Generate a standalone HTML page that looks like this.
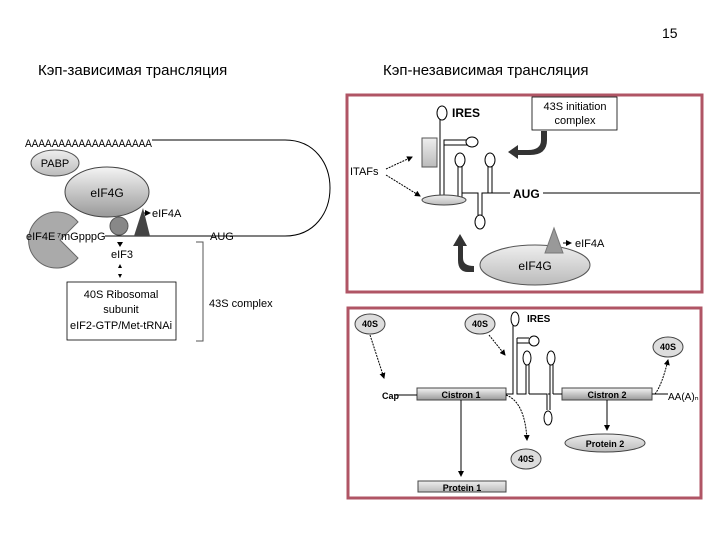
<!DOCTYPE html>
<html><head><meta charset="utf-8"><style>
body{margin:0;background:#fff;width:720px;height:540px;overflow:hidden}
svg{display:block;font-family:"Liberation Sans",Arial,sans-serif}
</style></head><body>
<svg width="720" height="540" viewBox="0 0 720 540">
<defs>
<linearGradient id="g1" x1="0" y1="0" x2="0" y2="1"><stop offset="0" stop-color="#f4f4f4"/><stop offset="1" stop-color="#999"/></linearGradient>
<linearGradient id="g2" x1="0" y1="0" x2="0" y2="1"><stop offset="0" stop-color="#eee"/><stop offset="1" stop-color="#bbb"/></linearGradient>
<marker id="ar" markerWidth="6" markerHeight="6" refX="5" refY="3" orient="auto"><path d="M0,0L6,3L0,6z" fill="#000"/></marker>
</defs>
<text x="662" y="38" font-size="14">15</text>
<text x="38" y="75" font-size="15">Кэп-зависимая трансляция</text>
<text x="383" y="75" font-size="15">Кэп-независимая трансляция</text>

<!-- left diagram -->
<text x="25" y="147" font-size="11" textLength="127" lengthAdjust="spacingAndGlyphs">AAAAAAAAAAAAAAAAAAA</text>
<path d="M152,140 H285 C345,140 345,236 285,236 H105" fill="none" stroke="#000" stroke-width="1"/>
<ellipse cx="55" cy="163" rx="24" ry="13" fill="url(#g2)" stroke="#555"/>
<text x="55" y="167" font-size="11" text-anchor="middle">PABP</text>
<ellipse cx="107" cy="192" rx="42" ry="25" fill="url(#g1)" stroke="#444"/>
<text x="107" y="197" font-size="12" text-anchor="middle">eIF4G</text>
<path d="M78,222 A28,28 0 1 0 78,258 L60,240 Z" fill="#aaa" stroke="#666"/>
<circle cx="119" cy="226" r="9" fill="#888" stroke="#555"/>
<path d="M134,236 L150,236 L143,208 Z" fill="#444"/>
<line x1="144" y1="213" x2="150" y2="213" stroke="#000" marker-end="url(#ar)"/>
<text x="152" y="217" font-size="11">eIF4A</text>
<text x="26" y="240" font-size="11">eIF4E</text>
<text x="57" y="240" font-size="11">⁷mGpppG</text>
<text x="210" y="240" font-size="11">AUG</text>
<path d="M117,242 L120,247 L123,242Z" fill="#000"/>
<text x="111" y="258" font-size="11">eIF3</text>
<path d="M118,268 L120,264 L122,268Z M118,274 L120,278 L122,274Z" fill="#000"/>
<rect x="67" y="282" width="109" height="58" fill="#fff" stroke="#000" stroke-width="0.8"/>
<text x="121" y="298" font-size="11" text-anchor="middle">40S Ribosomal</text>
<text x="121" y="313" font-size="11" text-anchor="middle">subunit</text>
<text x="121" y="329" font-size="11" text-anchor="middle">eIF2-GTP/Met-tRNAi</text>
<path d="M196,242 H203 V341 H196" fill="none" stroke="#555"/>
<text x="209" y="307" font-size="11">43S complex</text>

<!-- top right box -->
<rect x="347" y="95" width="355" height="197" fill="#fff" stroke="#b05565" stroke-width="3"/>
<text x="452" y="117" font-size="12" font-weight="bold">IRES</text>
<rect x="532" y="97" width="85" height="33" fill="#fff" stroke="#000" stroke-width="0.8"/>
<text x="575" y="110" font-size="11" text-anchor="middle">43S initiation</text>
<text x="575" y="124" font-size="11" text-anchor="middle">complex</text>
<path d="M541,131 V140 Q541,150 528,150 H518 L518,145 L508,152 L518,159 L518,155 H530 Q547,155 547,140 V131 Z" fill="#333"/>
<path d="M440,200 V118 M444,200 V140 H467 M444,145 H467 M444,145 V200" fill="none" stroke="#000"/>
<ellipse cx="442" cy="113" rx="5" ry="7" fill="#fff" stroke="#000"/>
<ellipse cx="472" cy="142" rx="6" ry="5" fill="#fff" stroke="#000"/>
<rect x="422" y="138" width="15" height="29" fill="url(#g2)" stroke="#555"/>
<path d="M458,200 V166 M462,200 V166 M488,193 V166 M492,193 V166" stroke="#000"/>
<ellipse cx="460" cy="160" rx="5" ry="7" fill="#fff" stroke="#000"/>
<ellipse cx="490" cy="160" rx="5" ry="7" fill="#fff" stroke="#000"/>
<path d="M462,193 H478 V215 M482,215 V193 H492 M492,193 H510 M543,193 H700" fill="none" stroke="#000"/>
<ellipse cx="480" cy="222" rx="5" ry="7" fill="#fff" stroke="#000"/>
<text x="513" y="198" font-size="12" font-weight="bold">AUG</text>
<ellipse cx="444" cy="200" rx="22" ry="5" fill="url(#g2)" stroke="#444"/>
<text x="350" y="175" font-size="11">ITAFs</text>
<line x1="386" y1="169" x2="412" y2="157" stroke="#000" stroke-dasharray="2,1" marker-end="url(#ar)"/>
<line x1="386" y1="175" x2="420" y2="196" stroke="#000" stroke-dasharray="2,1" marker-end="url(#ar)"/>
<ellipse cx="535" cy="265" rx="55" ry="20" fill="url(#g2)" stroke="#555"/>
<text x="535" y="270" font-size="12" text-anchor="middle">eIF4G</text>
<path d="M545,253 L563,253 L554,228 Z" fill="#999" stroke="#777"/>
<line x1="563" y1="243" x2="571" y2="243" stroke="#000" marker-end="url(#ar)"/>
<text x="575" y="247" font-size="11">eIF4A</text>
<path d="M474,272 H468 Q458,272 458,260 V246 H453 L460,234 L467,246 H463 V258 Q463,266 474,266 Z" fill="#333"/>

<!-- bottom right box -->
<rect x="348" y="308" width="353" height="190" fill="#fff" stroke="#b05565" stroke-width="3"/>
<g font-size="9" font-weight="bold" text-anchor="middle">
<ellipse cx="370" cy="324" rx="15" ry="10" fill="#ddd" stroke="#444"/><text x="370" y="327">40S</text>
<ellipse cx="480" cy="324" rx="15" ry="10" fill="#ddd" stroke="#444"/><text x="480" y="327">40S</text>
<ellipse cx="668" cy="347" rx="15" ry="10" fill="#ddd" stroke="#444"/><text x="668" y="350">40S</text>
<ellipse cx="526" cy="459" rx="15" ry="10" fill="#ddd" stroke="#444"/><text x="526" y="462">40S</text>
<ellipse cx="605" cy="443" rx="40" ry="9" fill="url(#g2)" stroke="#444"/><text x="605" y="447">Protein 2</text>
<rect x="417" y="388" width="89" height="12" fill="url(#g1)" stroke="#444"/><text x="461" y="398">Cistron 1</text>
<rect x="562" y="388" width="90" height="12" fill="url(#g1)" stroke="#444"/><text x="607" y="398">Cistron 2</text>
<rect x="418" y="481" width="88" height="11" fill="url(#g2)" stroke="#444"/><text x="462" y="491">Protein 1</text>
</g>
<text x="382" y="399" font-size="9" font-weight="bold">Cap</text>
<text x="668" y="400" font-size="10">AA(A)ₙ</text>
<text x="527" y="322" font-size="10" font-weight="bold">IRES</text>
<line x1="395" y1="395" x2="417" y2="395" stroke="#000"/>
<path d="M506,394 H513 V325 M517,394 V343 H529 M517,338 H529 M517,338 V394 H526 V363 M529,394 V363 M529,394 H547 V410 M550,410 V394 H548 M550,394 H550 V363 M553,394 V363 M553,394 H562 M652,394 H668" fill="none" stroke="#000"/>
<ellipse cx="515" cy="319" rx="4" ry="7" fill="#fff" stroke="#000"/>
<ellipse cx="534" cy="341" rx="5" ry="5" fill="#fff" stroke="#000"/>
<ellipse cx="527" cy="358" rx="4" ry="7" fill="#fff" stroke="#000"/>
<ellipse cx="551" cy="358" rx="4" ry="7" fill="#fff" stroke="#000"/>
<ellipse cx="548" cy="418" rx="4" ry="7" fill="#fff" stroke="#000"/>
<line x1="370" y1="335" x2="384" y2="378" stroke="#000" stroke-dasharray="2,1" marker-end="url(#ar)"/>
<line x1="489" y1="335" x2="505" y2="355" stroke="#000" stroke-dasharray="2,1" marker-end="url(#ar)"/>
<path d="M506,395 Q525,402 527,440" fill="none" stroke="#000" stroke-dasharray="2,1" marker-end="url(#ar)"/>
<path d="M655,394 Q662,385 668,360" fill="none" stroke="#000" stroke-dasharray="2,1" marker-end="url(#ar)"/>
<line x1="461" y1="400" x2="461" y2="476" stroke="#000" marker-end="url(#ar)"/>
<line x1="607" y1="400" x2="607" y2="430" stroke="#000" marker-end="url(#ar)"/>
</svg>
</body></html>
